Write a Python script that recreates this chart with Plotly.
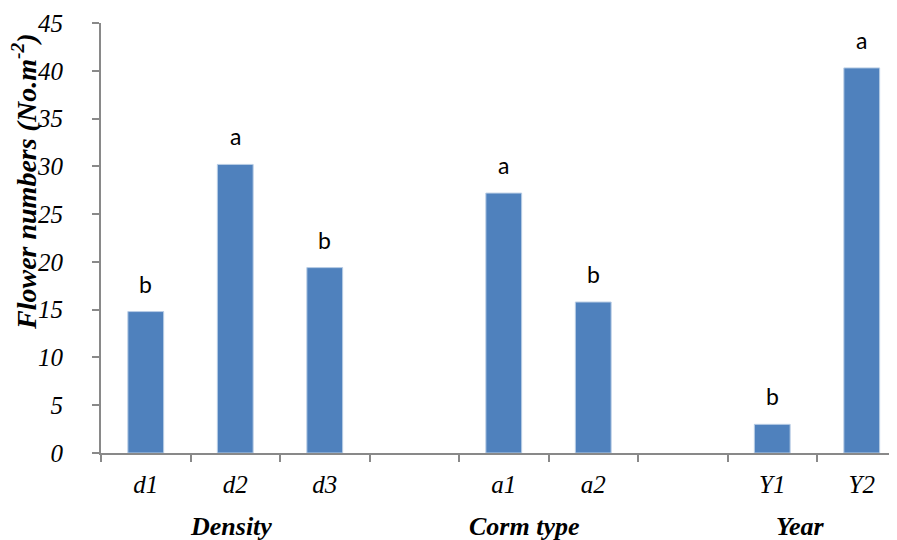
import plotly.graph_objects as go

categories = ["d1", "d2", "d3", " ", "a1", "a2", "  ", "Y1", "Y2"]
values = [14.8, 30.2, 19.4, None, 27.2, 15.8, None, 3.0, 40.3]
letters = ["b", "a", "b", "", "a", "b", "", "b", "a"]
tick_labels = ["d1", "d2", "d3", "", "a1", "a2", "", "Y1", "Y2"]
groups = ["Density", "Corm type", "Year"]

# page has default 8px body margin -> compensate
OFF = 8
W, H = 897 - OFF, 540 - OFF
axis_x, top_y, zero_y = 101, 23, 453          # page pixel targets
ml, mt = axis_x - OFF, top_y - OFF
ph = zero_y - top_y
mb = H - mt - ph
mr = 0
pw = W - ml - mr
cat_w = 89.5
right_extent = -0.5 + pw / cat_w
group_px = [231, 524, 800]                     # page pixel centres of group labels

fig = go.Figure()
fig.add_trace(go.Bar(
    x=categories, y=values, width=0.4,
    marker=dict(color="#4F81BD", line=dict(color="#B9CDE5", width=1)),
    hoverinfo="skip",
))

for c, v, l in zip(categories, values, letters):
    if v is None or not l:
        continue
    fig.add_annotation(x=c, y=v, text=l, showarrow=False, xref="x", yref="y",
                       yanchor="bottom", yshift=12,
                       font=dict(family="Lato", size=23, color="black"))

for g, gx in zip(groups, group_px):
    fig.add_annotation(x=(gx - axis_x) / pw, y=-73 / ph, xref="paper", yref="paper",
                       text=f"<b><i>{g}</i></b>",
                       showarrow=False, xanchor="center", yanchor="middle",
                       font=dict(family="Liberation Serif", size=26, color="black"))

fig.add_annotation(x=(25 - axis_x) / pw, y=1 - (182 - top_y) / ph, xref="paper", yref="paper",
                   text="<b><i>Flower numbers (No.m<sup>-2</sup>)</i></b>",
                   textangle=-90, showarrow=False, xanchor="center", yanchor="middle",
                   font=dict(family="Liberation Serif", size=28, color="black"))

axis_common = dict(
    ticks="outside", ticklen=7, tickcolor="#898989", tickwidth=1.5,
    showline=True, linecolor="#898989", linewidth=1.8,
    tickfont=dict(family="Liberation Serif", size=25, color="black", style="italic"),
    showgrid=False, zeroline=False, automargin=False,
)

fig.update_layout(
    width=W, height=H,
    margin=dict(l=ml, r=mr, t=mt, b=mb, pad=0),
    plot_bgcolor="white", paper_bgcolor="white",
    showlegend=False,
    xaxis=dict(
        type="category", categoryorder="array", categoryarray=categories,
        tickmode="array", tickvals=categories, ticktext=tick_labels,
        tickson="boundaries", range=[-0.5, right_extent],
        ticklabelstandoff=8,
        **axis_common,
    ),
    yaxis=dict(
        range=[0, 45], tickmode="array", tickvals=list(range(0, 46, 5)),
        ticklabelstandoff=24,
        **axis_common,
    ),
)

fig.write_html("out.html")
